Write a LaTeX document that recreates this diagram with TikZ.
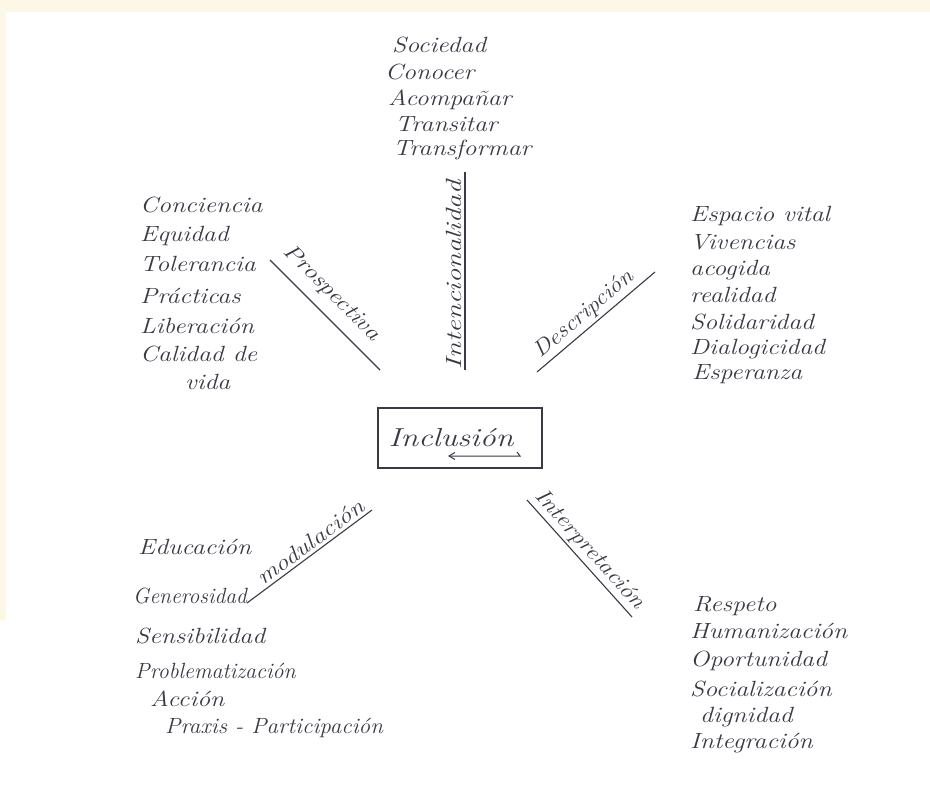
\documentclass[tikz,border=0pt]{standalone}
\usetikzlibrary{arrows.meta}
\definecolor{ink}{HTML}{3A3A46}
\definecolor{tint}{HTML}{FDF7E8}
\newcommand\handw[2][1.17]{\scalebox{#1}[1]{#2}}
\begin{document}
\begin{tikzpicture}[x=1pt,y=-1pt,
  hand/.style={font=\fontsize{22}{26}\selectfont\itshape, text=ink, inner sep=0pt, anchor=base west},
  spoke/.style={draw=ink, line width=1.1pt},
  spokelabel/.style={font=\fontsize{22}{26}\selectfont\itshape, text=ink, sloped, above, inner sep=3pt},
  boxstyle/.style={draw=ink, line width=1.2pt, minimum width=164pt, minimum height=60pt, inner sep=0pt}]
\useasboundingbox (0,0) rectangle (930,789);
\fill[white] (0,0) rectangle (930,789);
\fill[tint] (0,0) rectangle (930,12);
\fill[tint] (0,0) rectangle (6,620);

% central box
\node[boxstyle] (box) at (460,438) {};
\node[hand, anchor=base, font=\fontsize{26}{30}\selectfont\itshape] (inc) at (451,446) {\handw[1.23]{Inclusión}};
\coordinate (arrL) at (448,456);
\coordinate (arrR) at (520,456);
\draw[ink, line width=1pt, {Straight Barb[length=6pt,width=7pt]}-] (arrL) -- (arrR) -- ++(-3,-4);

% spokes
\coordinate (iA) at (465,370); \coordinate (iB) at (465,172);
\draw[spoke] (iA) -- node[spokelabel, pos=0.48] (lint) {\handw[1.3]{Intencionalidad}} (iB);
\coordinate (pA) at (270,260); \coordinate (pB) at (380,370);
\draw[spoke] (pA) -- node[spokelabel, above=7pt, pos=0.43] (lpro) {\handw[1.2]{Prospectiva}} (pB);
\coordinate (dA) at (537,372); \coordinate (dB) at (655,272);
\draw[spoke] (dA) -- node[spokelabel, pos=0.47] (ldes) {\handw[1.12]{Descripción}} (dB);
\coordinate (tA) at (527,500); \coordinate (tB) at (632,617);
\draw[spoke] (tA) -- node[spokelabel] (lint2) {\handw[1.15]{Interpretación}} (tB);
\coordinate (mA) at (247,603); \coordinate (mB) at (372,510);
\draw[spoke] (mA) -- node[spokelabel, pos=0.56] (lmod) {\handw[1.2]{modulación}} (mB);

% top list
\node[hand] (t1) at (392,53) {\handw{Sociedad}};
\node[hand] (t2) at (385,80) {\handw{Conocer}};
\node[hand] (t3) at (388,106) {\handw{Acompañar}};
\node[hand] (t4) at (395,132) {\handw{Transitar}};
\node[hand] (t5) at (393,156) {\handw{Transformar}};

% left list
\node[hand] (l1) at (140,212) {\handw{Conciencia}};
\node[hand] (l2) at (140,242) {\handw{Equidad}};
\node[hand] (l3) at (140,272) {\handw{Tolerancia}};
\node[hand] (l4) at (140,303) {\handw{Prácticas}};
\node[hand] (l5) at (140,333) {\handw{Liberación}};
\node[hand] (l6) at (140,361) {\handw{Calidad de}};
\node[hand] (l7) at (185,389) {\handw{vida}};

% right list
\node[hand] (r1) at (690,222) {\handw{Espacio vital}};
\node[hand] (r2) at (690,250) {\handw{Vivencias}};
\node[hand] (r3) at (690,276) {\handw{acogida}};
\node[hand] (r4) at (690,302) {\handw{realidad}};
\node[hand] (r5) at (690,329) {\handw{Solidaridad}};
\node[hand] (r6) at (690,354) {\handw{Dialogicidad}};
\node[hand] (r7) at (692,379) {\handw{Esperanza}};

% bottom-left list
\node[hand] (b1) at (138,554) {\handw{Educación}};
\node[hand] (b2) at (133,603) {\handw[0.98]{Generosidad}};
\node[hand] (b3) at (135,643) {\handw{Sensibilidad}};
\node[hand] (b4) at (135,678) {\handw[1.0]{Problematización}};
\node[hand] (b5) at (150,706) {\handw{Acción}};
\node[hand] (b6) at (165,733) {\handw[1.05]{Praxis - Participación}};

% bottom-right list
\node[hand] (g1) at (693,611) {\handw{Respeto}};
\node[hand] (g2) at (690,638) {\handw{Humanización}};
\node[hand] (g3) at (690,666) {\handw{Oportunidad}};
\node[hand] (g4) at (690,696) {\handw{Socialización}};
\node[hand] (g5) at (700,722) {\handw{dignidad}};
\node[hand] (g6) at (690,748) {\handw{Integración}};
\end{tikzpicture}
\end{document}
